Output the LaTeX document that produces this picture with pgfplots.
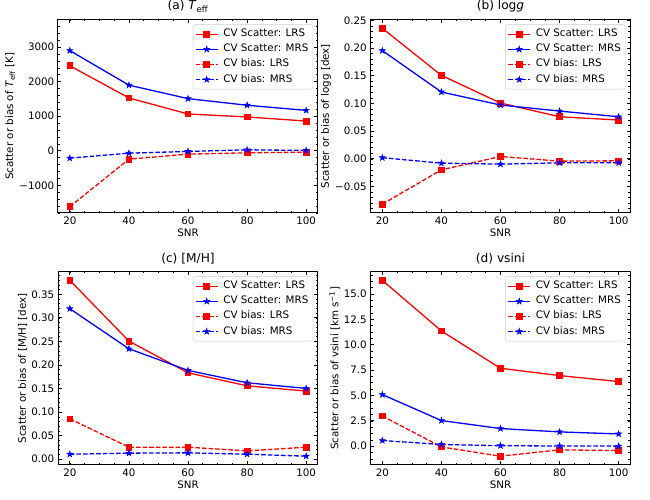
\documentclass[border=0pt]{standalone}
\usepackage{fontspec}
\setmainfont{DejaVu Sans}
\usepackage{pgfplots}
\pgfplotsset{compat=1.18}

\pgfdeclareplotmark{fstar}{%
  \pgfpathmoveto{\pgfpointpolar{90}{\pgfplotmarksize}}%
  \pgfpathlineto{\pgfpointpolar{126}{0.382\pgfplotmarksize}}%
  \pgfpathlineto{\pgfpointpolar{162}{\pgfplotmarksize}}%
  \pgfpathlineto{\pgfpointpolar{198}{0.382\pgfplotmarksize}}%
  \pgfpathlineto{\pgfpointpolar{234}{\pgfplotmarksize}}%
  \pgfpathlineto{\pgfpointpolar{270}{0.382\pgfplotmarksize}}%
  \pgfpathlineto{\pgfpointpolar{306}{\pgfplotmarksize}}%
  \pgfpathlineto{\pgfpointpolar{342}{0.382\pgfplotmarksize}}%
  \pgfpathlineto{\pgfpointpolar{18}{\pgfplotmarksize}}%
  \pgfpathlineto{\pgfpointpolar{54}{0.382\pgfplotmarksize}}%
  \pgfpathclose
  \pgfusepathqfillstroke
}

\newcommand{\lfont}{\fontsize{10.3}{12.4}\selectfont}

\pgfplotsset{
  myaxis/.style={
    scale only axis, width=260pt, height=193.5pt,
    anchor=south west,
    xmin=16, xmax=104,
    xtick={20,40,60,80,100},
    minor xtick={20,25,...,100},
    tick align=inside,
    xtick pos=both, ytick pos=both,
    xticklabel pos=lower, yticklabel pos=left,
    major tick length=3.5pt, minor tick length=2pt,
    tick style={black, line width=0.8pt},
    minor tick style={black, line width=0.6pt},
    axis line style={line width=1pt},
    /pgf/number format/assume math mode=true,
    tick label style={font=\lfont},
    xticklabel style={inner sep=0pt, yshift=-3.5pt},
    yticklabel style={inner sep=0pt, xshift=-3.5pt},
    xlabel={SNR},
    label style={inner sep=4pt, font=\lfont},
    title style={at={(0.5,1)}, anchor=south, inner sep=0pt, yshift=1pt, font=\fontsize{12.2}{14}\selectfont},
    legend style={at={(1,1)}, anchor=north east, xshift=-5pt, yshift=-5pt,
      draw=black!20, rounded corners=2pt, fill=white, font=\lfont,
      inner sep=2pt, row sep=0pt, column sep=2.5pt,
      nodes={inner sep=2.5pt, text height=7.6pt, text depth=2.5pt}},
    legend cell align=left,
    legend image code/.code={\draw[mark repeat=2,mark phase=2,##1] plot coordinates {(0pt,0pt) (11pt,0pt) (22pt,0pt)};},
    legend entries={CV Scatter: LRS, CV Scatter: MRS, CV bias: LRS, CV bias: MRS},
  },
  lrs/.style={red, line width=1.3pt, mark=square*, mark size=2.9pt, mark options={solid, line width=0.8pt}},
  mrs/.style={blue, line width=1.3pt, mark=fstar, mark size=3.1pt, mark options={solid, line width=0.6pt}},
  bias/.style={dash pattern=on 4.6pt off 2pt},
}

\begin{document}
\begin{tikzpicture}
\useasboundingbox (0,0) rectangle (650pt,500pt);

% (a)
\begin{axis}[myaxis, at={(58pt,287pt)},
  title={(a) \textit{T}\textsubscript{eff}},
  ylabel={Scatter or bias of \textit{T}\textsubscript{eff} [K]},
  ymin=-1800, ymax=3800,
  ytick={-1000,0,1000,2000,3000},
  yticklabels={−1000,0,1000,2000,3000},
  minor ytick={-1800,-1600,...,3800},
]
\addplot[lrs] coordinates {(20,2460)(40,1530)(60,1065)(80,980)(100,860)};
\addplot[mrs] coordinates {(20,2900)(40,1900)(60,1510)(80,1318)(100,1170)};
\addplot[lrs,bias] coordinates {(20,-1618)(40,-242)(60,-97)(80,-58)(100,-39)};
\addplot[mrs,bias] coordinates {(20,-213)(40,-68)(60,-19)(80,29)(100,10)};
\end{axis}

% (b)
\begin{axis}[myaxis, at={(370.5pt,287pt)},
  title={(b) log\textit{g}},
  ylabel={Scatter or bias of logg [dex]},
  ymin=-0.0978, ymax=0.2515,
  ytick={-0.05,0,0.05,0.10,0.15,0.20,0.25},
  yticklabels={−0.05,0.00,0.05,0.10,0.15,0.20,0.25},
  minor ytick={-0.09,-0.08,...,0.25},
]
\addplot[lrs] coordinates {(20,0.2356)(40,0.1506)(60,0.1007)(80,0.0759)(100,0.0700)};
\addplot[mrs] coordinates {(20,0.1953)(40,0.1206)(60,0.0971)(80,0.0862)(100,0.0759)};
\addplot[lrs,bias] coordinates {(20,-0.0819)(40,-0.0199)(60,0.0042)(80,-0.0042)(100,-0.0036)};
\addplot[mrs,bias] coordinates {(20,0.0020)(40,-0.0078)(60,-0.0096)(80,-0.0072)(100,-0.0072)};
\end{axis}

% (c)
\begin{axis}[myaxis, at={(58pt,35pt)},
  title={(c) [M/H]},
  ylabel={Scatter or bias of [M/H] [dex]},
  ymin=-0.0123, ymax=0.3984,
  ytick={0,0.05,0.10,0.15,0.20,0.25,0.30,0.35},
  yticklabels={0.00,0.05,0.10,0.15,0.20,0.25,0.30,0.35},
  minor ytick={-0.01,0,...,0.39},
]
\addplot[lrs] coordinates {(20,0.3797)(40,0.2507)(60,0.1834)(80,0.1558)(100,0.1445)};
\addplot[mrs] coordinates {(20,0.3194)(40,0.2344)(60,0.1885)(80,0.1622)(100,0.1502)};
\addplot[lrs,bias] coordinates {(20,0.0857)(40,0.0255)(60,0.0255)(80,0.0177)(100,0.0255)};
\addplot[mrs,bias] coordinates {(20,0.0106)(40,0.0128)(60,0.0135)(80,0.0106)(100,0.0064)};
\end{axis}

% (d)
\begin{axis}[myaxis, at={(370.5pt,35pt)},
  title={(d) vsini},
  ylabel={Scatter or bias of vsini [km s\textsuperscript{−1}]},
  ymin=-1.852, ymax=17.22,
  ytick={0,2.5,5,7.5,10,12.5,15},
  yticklabels={0.0,2.5,5.0,7.5,10.0,12.5,15.0},
  minor ytick={-1.25,-0.625,...,16.875},
]
\addplot[lrs] coordinates {(20,16.35)(40,11.36)(60,7.68)(80,6.96)(100,6.37)};
\addplot[mrs] coordinates {(20,5.09)(40,2.53)(60,1.74)(80,1.41)(100,1.21)};
\addplot[lrs,bias] coordinates {(20,2.98)(40,-0.07)(60,-0.985)(80,-0.36)(100,-0.43)};
\addplot[mrs,bias] coordinates {(20,0.56)(40,0.17)(60,0.05)(80,0.02)(100,0.01)};
\end{axis}
\end{tikzpicture}
\end{document}
